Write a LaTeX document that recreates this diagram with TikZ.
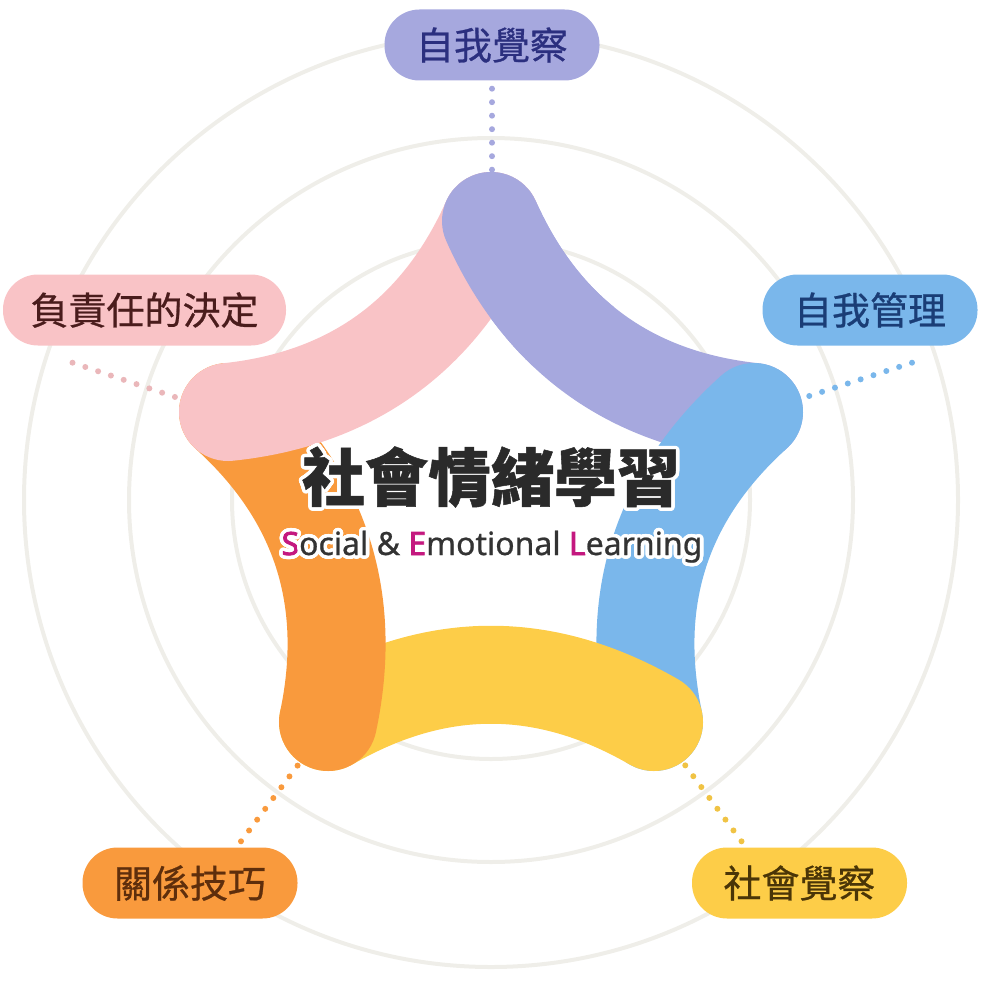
\documentclass[tikz,border=0pt]{standalone}
\usepackage{fontspec}
\setmainfont{Noto Sans}
\newfontfamily\cjk{Noto Sans CJK TC}[FakeBold=0.7]
\newfontfamily\cjktitle{Noto Sans CJK TC}[FakeBold=0.8]
\newfontfamily\subfont{Noto Sans}[FakeBold=0.7]
\newfontfamily\subbold{Noto Sans}[FakeBold=2.6]
\usepackage{contour}
\contourlength{3.5pt}
\contournumber{32}

\definecolor{ringgray}{HTML}{EFEEE9}
\definecolor{bandpurple}{HTML}{A6A8DE}
\definecolor{bandblue}{HTML}{7AB7EB}
\definecolor{bandyellow}{HTML}{FDCD48}
\definecolor{bandorange}{HTML}{F99A3D}
\definecolor{bandpink}{HTML}{F9C3C6}
\definecolor{txtpurple}{HTML}{2B2F7F}
\definecolor{txtblue}{HTML}{1A3D76}
\definecolor{txtpink}{HTML}{4A1C1C}
\definecolor{txtorange}{HTML}{5E2E0C}
\definecolor{txtyellow}{HTML}{4A3507}
\definecolor{titlegray}{HTML}{2A2A2A}
\definecolor{subgray}{HTML}{333333}
\definecolor{selmagenta}{HTML}{C4187F}

\newcommand\selinit[1]{\textcolor{selmagenta}{\contour{white}{\subbold #1}}}

\tikzset{
  ring/.style={draw=ringgray, line width=4pt},
  band/.style={line width=98pt, line cap=round},
  pill/.style={rounded corners=35pt, minimum width=215pt, minimum height=71pt,
    inner sep=0pt, font=\cjk\fontsize{38}{40}\selectfont},
  dots/.style={line width=6pt, line cap=round, dash pattern=on 0pt off 13.5pt},
}

\begin{document}
\begin{tikzpicture}[x=1pt, y=-1pt]
    \useasboundingbox (0,0) rectangle (984,984);

    % Draw the rings
    \draw[ring] (491,500) circle (467pt);
    \draw[ring] (491,500) circle (362pt);
    \draw[ring] (491,500) circle (259pt);

    % Define the labels
    \node[pill, fill=bandpurple, text=txtpurple] (aware) at (492,45) {自我覺察};
    \node[pill, fill=bandblue, text=txtblue] (manage) at (870,310) {自我管理};
    \node[pill, fill=bandpink, text=txtpink, minimum width=283pt] (decide) at (144.5,310) {負責任的決定};
    \node[pill, fill=bandorange, text=txtorange] (relate) at (190,883) {關係技巧};
    \node[pill, fill=bandyellow, text=txtyellow] (social) at (799.5,883) {社會覺察};

    % Define the corners of the star
    \coordinate (v1) at (491,221);
    \coordinate (v2) at (754,412);
    \coordinate (v3) at (654,722);
    \coordinate (v4) at (328,722);
    \coordinate (v5) at (228,412);

    % Define the ends of the dotted lines
    \coordinate (t1) at (492,172);
    \coordinate (t2) at (803,398);
    \coordinate (t3) at (685,765);
    \coordinate (t4) at (298,765);
    \coordinate (t5) at (178,398);

    % Draw the dotted lines
    \draw[dots, bandpurple] ([yshift=-8pt]aware.south) -- (t1);
    \draw[dots, bandblue] ([shift={(42,17)}]manage.south) -- (t2);
    \draw[dots, bandpink!94!black] ([shift={(-72,17)}]decide.south) -- (t5);
    \draw[dots, bandorange] ([shift={(51,-6)}]relate.north) -- (t4);
    \draw[dots, bandyellow!95!black] ([shift={(-58,-6)}]social.north) -- (t3);

    % Draw the bands
    \draw[band, bandpurple] (v1) .. controls (542,335) and (630,399) .. (v2);
    \draw[band, bandblue] (v2) .. controls (661,496) and (628,599) .. (v3);
    \draw[band, bandyellow] (v3) .. controls (545,659) and (437,659) .. (v4);
    \draw[band, bandorange] (v4) .. controls (354,599) and (321,496) .. (v5);
    \draw[band, bandpink] (v5) .. controls (352,399) and (440,335) .. (v1);
    % purple goes over the pink end again
    \begin{scope}
        \clip (v1) circle (150pt);
        \draw[band, bandpurple] (v1) .. controls (542,335) and (630,399) .. (v2);
    \end{scope}

    % Draw the title
    \node[anchor=base, font=\cjktitle\bfseries\fontsize{63}{70}\selectfont, text=titlegray]
        (title) at (491,501) {\contour{white}{社會情緒學習}};
    \node[anchor=base, font=\subfont\fontsize{32}{36}\selectfont, text=subgray]
        (subtitle) at (492,555) {\selinit{S}\contour{white}{ocial} \contour{white}{\&} \selinit{E}\contour{white}{motional} \selinit{L}\contour{white}{earning}};
\end{tikzpicture}
\end{document}
